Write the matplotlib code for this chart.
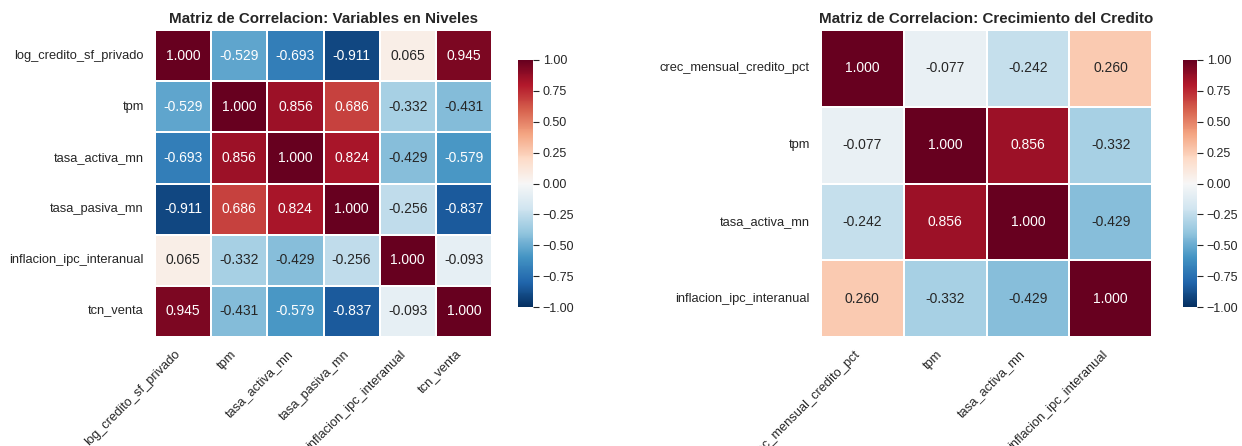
import numpy as np
import pandas as pd
import matplotlib
matplotlib.use("Agg")
import matplotlib.pyplot as plt
import seaborn as sns

# Variables in levels
niveles_vars = ["log_credito_sf_privado", "tpm", "tasa_activa_mn",
                "tasa_pasiva_mn", "inflacion_ipc_interanual", "tcn_venta"]
niveles_corr = [
    [1.000, -0.529, -0.693, -0.911, 0.065, 0.945],
    [-0.529, 1.000, 0.856, 0.686, -0.332, -0.431],
    [-0.693, 0.856, 1.000, 0.824, -0.429, -0.579],
    [-0.911, 0.686, 0.824, 1.000, -0.256, -0.837],
    [0.065, -0.332, -0.429, -0.256, 1.000, -0.093],
    [0.945, -0.431, -0.579, -0.837, -0.093, 1.000],
]

# Credit growth variables
crec_vars = ["crec_mensual_credito_pct", "tpm", "tasa_activa_mn",
             "inflacion_ipc_interanual"]
crec_corr = [
    [1.000, -0.077, -0.242, 0.260],
    [-0.077, 1.000, 0.856, -0.332],
    [-0.242, 0.856, 1.000, -0.429],
    [0.260, -0.332, -0.429, 1.000],
]

titulos = ["Matriz de Correlacion: Variables en Niveles",
           "Matriz de Correlacion: Crecimiento del Credito"]

sns.set_theme(style="white")
plt.rcParams["font.family"] = ["Liberation Sans", "DejaVu Sans"]

W, H = 1242, 446
fig = plt.figure(figsize=(W / 100, H / 100), dpi=100)


def px_axes(x0, y0, x1, y1):
    return fig.add_axes([x0 / W, 1 - y1 / H, (x1 - x0) / W, (y1 - y0) / H])


paneles = [
    (niveles_vars, niveles_corr, titulos[0], (155, 30, 492, 337), (518, 60, 533, 307)),
    (crec_vars, crec_corr, titulos[1], (821, 30, 1152, 337), (1183, 60, 1197, 307)),
]

for nombres, corr, titulo, hbox, cbox in paneles:
    ax = px_axes(*hbox)
    cax = px_axes(*cbox)
    df = pd.DataFrame(np.array(corr), index=nombres, columns=nombres)
    sns.heatmap(df, ax=ax, cbar_ax=cax, annot=True, fmt=".3f",
                cmap="RdBu_r", center=0, vmin=-1, vmax=1,
                linewidths=1.2, linecolor="white",
                annot_kws={"fontsize": 10})
    ax.set_title(titulo, fontsize=10.9, fontweight="bold", pad=5)
    ax.tick_params(axis="both", length=0, labelsize=9.3, pad=8)
    plt.setp(ax.get_xticklabels(), rotation=45, ha="right")
    plt.setp(ax.get_yticklabels(), rotation=0)
    cax.tick_params(axis="y", length=4, width=0.8, labelsize=9, pad=3,
                    right=True, color=".15")

fig.savefig("out.png", dpi=100)
